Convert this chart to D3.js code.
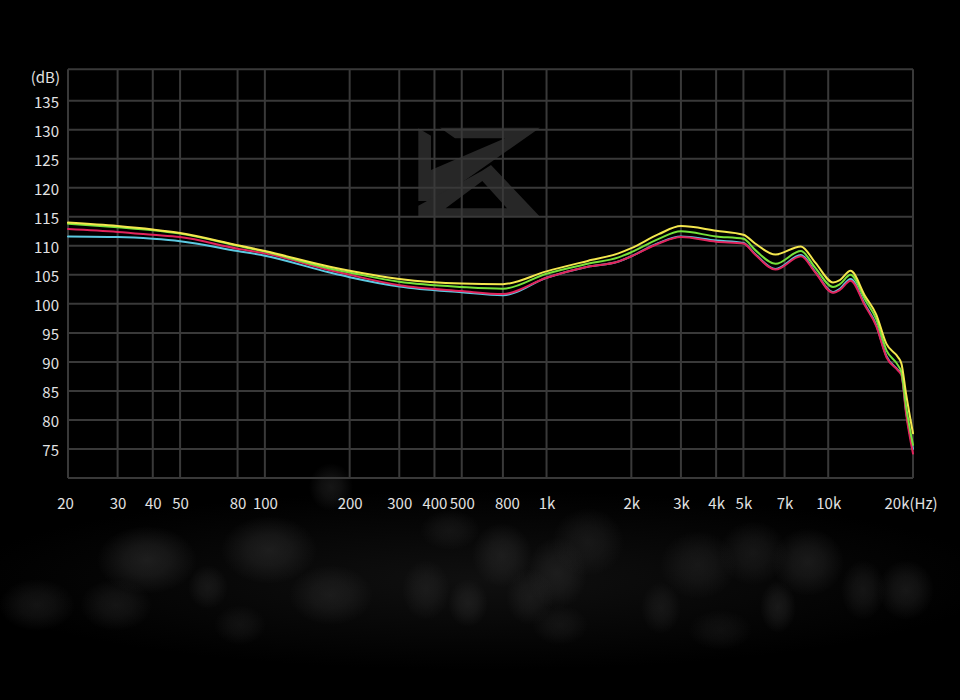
<!DOCTYPE html>
<html>
<head>
<meta charset="utf-8">
<script src="https://cdn.jsdelivr.net/npm/d3@7"></script>
<style>
  html, body { margin: 0; padding: 0; background: #000; }
  svg { display: block; }
</style>
</head>
<body>
<svg id="chart" width="960" height="700"></svg>
<script>
// ---- data ----
const freqs  = [20,30,40,50,80,100,170,200,300,500,700,1000,1400,1800,2000,2500,3000,4000,5000,5500,6500,8000,9000,10400,11000,12000,13500,14800,16100,17700,18200,18900,20000];
const yellow = [114.0,113.4,112.8,112.2,110.1,109.1,106.4,105.7,104.3,103.5,103.4,105.6,107.4,108.7,109.6,112.0,113.4,112.6,111.9,110.4,108.5,109.9,107.1,103.7,104.1,105.7,101.4,98.2,93.1,90.8,89.7,84.5,77.7];
const green  = [113.8,113.2,112.7,112.1,110.0,109.0,106.1,105.4,103.8,102.9,102.6,105.2,106.9,108.0,108.9,111.2,112.5,111.6,111.2,109.3,106.9,109.1,106.2,102.9,103.4,105.0,100.8,97.4,92.0,89.4,88.2,82.3,75.7];
const red    = [112.9,112.4,111.9,111.5,109.5,108.7,105.8,105.0,103.2,102.2,101.7,104.5,106.4,107.3,108.2,110.4,111.5,110.7,110.4,108.5,105.9,108.2,105.4,101.9,102.4,104.0,99.7,96.2,90.8,88.5,87.7,81.1,74.2];
const cyan   = [111.6,111.5,111.2,110.8,109.1,108.3,105.4,104.6,103.0,102.0,101.5,104.5,106.4,107.3,108.2,110.5,111.6,110.9,110.5,108.6,106.0,108.4,105.5,102.0,102.6,104.3,99.9,96.4,91.0,88.6,87.9,81.5,75.0];

const yTicks = [75,80,85,90,95,100,105,110,115,120,125,130,135];
const xTickValues = [20,30,40,50,80,100,200,300,400,500,700,1000,2000,3000,4000,5000,7000,10000,20000];
const xTickLabels = ["20","30","40","50","80","100","200","300","400","500","800","1k","2k","3k","4k","5k","7k","10k","20k(Hz)"];
const yUnit = "(dB)";

// bokeh blobs in background (decorative): [x, y, rx, ry, opacity]
const blobs = [[147,560,50,34,0.9],[269,550,48,34,0.85],[37,605,38,26,0.6],[116,605,36,26,0.6],[331,595,42,30,0.7],
  [208,587,20,22,0.6],[502,555,30,32,0.75],[557,573,30,36,0.7],[588,542,36,34,0.6],[426,590,24,30,0.6],
  [468,603,20,24,0.7],[530,597,24,28,0.6],[698,565,38,34,0.6],[753,553,34,32,0.6],[808,562,36,34,0.75],
  [778,607,18,26,0.7],[863,590,22,30,0.6],[906,590,28,30,0.7],[661,608,20,26,0.55],[331,487,22,24,0.7],
  [450,530,30,20,0.5],[240,625,26,20,0.45],[560,625,28,20,0.45],[720,630,32,20,0.4]];

const svg = d3.select("#chart");
const W = 960, H = 700;
const x = d3.scaleLog().domain([20, 20000]).range([68, 913]);
const y = d3.scaleLinear().domain([70, 135]).range([478, 100.7]);
const frameTop = y(135) - 31.5;
const font = "'Noto Sans CJK SC','Noto Sans',sans-serif";

// background
svg.append("rect").attr("width", W).attr("height", H).attr("fill", "#000");
const defs = svg.append("defs");
const rg = defs.append("radialGradient").attr("id", "blob");
rg.append("stop").attr("offset", "0%").attr("stop-color", "#333").attr("stop-opacity", 1);
rg.append("stop").attr("offset", "45%").attr("stop-color", "#333").attr("stop-opacity", 0.7);
rg.append("stop").attr("offset", "100%").attr("stop-color", "#333").attr("stop-opacity", 0);
const haze = defs.append("radialGradient").attr("id", "haze");
haze.append("stop").attr("offset", "0%").attr("stop-color", "#1a1a1a").attr("stop-opacity", 1);
haze.append("stop").attr("offset", "100%").attr("stop-color", "#1a1a1a").attr("stop-opacity", 0);
svg.append("ellipse").attr("cx", 480).attr("cy", 580).attr("rx", 520).attr("ry", 90).attr("fill", "url(#haze)").attr("opacity", 0.6);
svg.append("g").selectAll("ellipse").data(blobs).join("ellipse")
  .attr("cx", d => d[0]).attr("cy", d => d[1]).attr("rx", d => d[2]).attr("ry", d => d[3])
  .attr("fill", "url(#blob)").attr("opacity", d => d[4] * 0.6);

// watermark logo (KZ)
const lg = svg.append("g").attr("transform", "translate(405,115) scale(0.3333)").attr("fill", "#272727");
lg.append("path").attr("d", "M105,38 L405,38 L92,258 L78,258 L78,165 L300,70 L150,70 Z");
lg.append("path").attr("d", "M40,40 L78,62 L78,258 L40,258 Z");
lg.append("path").attr("fill-rule", "evenodd")
  .attr("d", "M40,272 L230,168 L258,150 L405,305 L40,305 Z M122,280 L232,198 L306,280 Z");

// grid
const grid = svg.append("g").attr("stroke", "#393939").attr("stroke-width", 2);
const hLines = [y(70), ...yTicks.map(y), frameTop];
grid.selectAll("line.h").data(hLines).join("line").attr("class", "h")
  .attr("x1", x(20)).attr("x2", x(20000)).attr("y1", d => d).attr("y2", d => d);
grid.selectAll("line.v").data(xTickValues).join("line").attr("class", "v")
  .attr("x1", d => x(d)).attr("x2", d => x(d)).attr("y1", frameTop).attr("y2", y(70));

// y axis labels
const yAxis = d3.axisLeft(y).tickValues(yTicks).tickSize(0).tickPadding(9);
const yg = svg.append("g").attr("transform", `translate(${x(20)},0)`).call(yAxis);
yg.select(".domain").remove();
yg.selectAll("text").attr("fill", "#e2e2e2").attr("font-size", 15)
  .attr("font-family", font).attr("dy", "0.42em");
svg.append("text").attr("x", 60).attr("y", frameTop + 14).attr("text-anchor", "end")
  .attr("fill", "#e2e2e2").attr("font-size", 15).attr("font-family", font)
  .text(yUnit);

// x axis labels
const xAxis = d3.axisBottom(x).tickValues(xTickValues).tickSize(0).tickPadding(20)
  .tickFormat((d, i) => xTickLabels[i]);
const xg = svg.append("g").attr("transform", `translate(0,${y(70)})`).call(xAxis);
xg.select(".domain").remove();
xg.selectAll("text").attr("fill", "#e2e2e2").attr("font-size", 15).attr("font-family", font);
xg.selectAll(".tick").filter(d => d === 20000).select("text").attr("text-anchor", "start").attr("dx", -29);
xg.selectAll(".tick").filter(d => d === 20).select("text").attr("dx", -3);
xg.selectAll(".tick").filter(d => d === 700).select("text").attr("dx", 4);

// curves
const series = [
  {name: "cyan", values: cyan, color: "#5cc9e2"},
  {name: "red", values: red, color: "#e2245c"},
  {name: "green", values: green, color: "#76e23a"},
  {name: "yellow", values: yellow, color: "#f4e74e"}
];
const line = d3.line().x(d => x(d[0])).y(d => y(d[1])).curve(d3.curveMonotoneX);
svg.append("g").selectAll("path").data(series).join("path")
  .attr("d", s => line(freqs.map((f, i) => [f, s.values[i]])))
  .attr("fill", "none").attr("stroke", s => s.color).attr("stroke-width", 2)
  .attr("stroke-linejoin", "round").attr("stroke-linecap", "round");
</script>
</body>
</html>
